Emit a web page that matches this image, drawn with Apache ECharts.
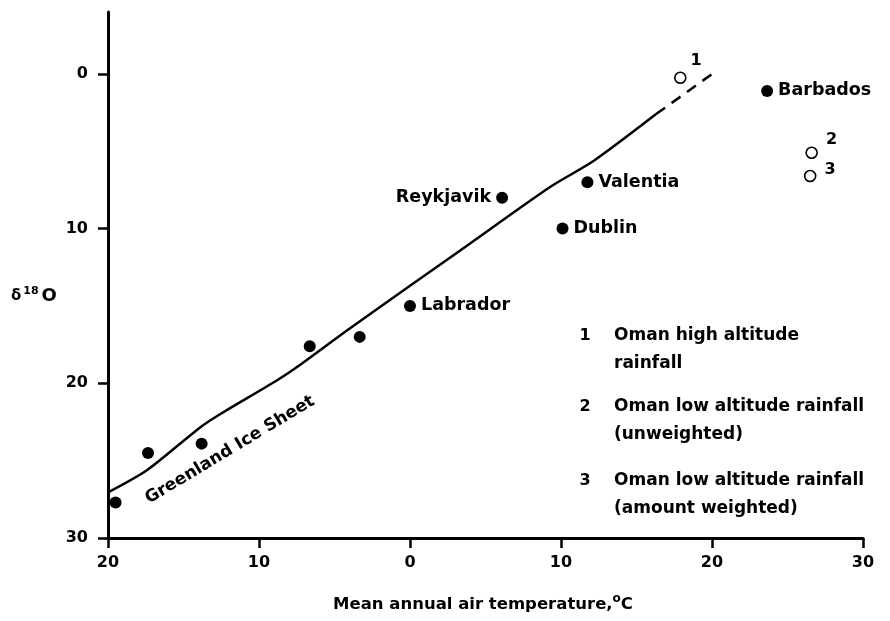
<!DOCTYPE html>
<html>
<head>
<meta charset="utf-8">
<script src="https://cdn.jsdelivr.net/npm/echarts@6/dist/echarts.min.js"></script>
<style>
  html, body { margin: 0; padding: 0; background: #fff; }
  #chart { width: 890px; height: 621px; }
</style>
</head>
<body>
<div id="chart"></div>
<script>
// Stations: mean annual air temperature (°C) vs δ18O of precipitation
const stationNames = ['', '', '', '', '', 'Labrador', 'Reykjavik', 'Dublin', 'Valentia', 'Barbados'];
const stationTemps = [-19.5, -17.35, -13.8, -6.64, -3.33, 0, 6.1, 10.1, 11.75, 23.65];
const stationD18O  = [27.7, 24.5, 23.9, 17.6, 17.0, 15.0, 8.0, 10.0, 7.0, 1.1];
const stationLabelSide = ['', '', '', '', '', 'right', 'left', 'right', 'right', 'right'];

// Oman rainfall samples (open circles)
const omanIds   = ['1', '2', '3'];
const omanTemps = [17.9, 26.6, 26.5];
const omanD18O  = [0.25, 5.1, 6.6];

// Greenland Ice Sheet relation: solid part and its dashed extension
const curveTemps = [-20, -17.4, -13.9, -12.5, -8.8, -7.2, -4.2, 0, 3.35, 9.3, 12.2, 16.3];
const curveD18O  = [27.05, 25.6, 22.85, 21.95, 19.8, 18.75, 16.6, 13.7, 11.4, 7.3, 5.6, 2.6];
const dashTemps  = [16.3, 20.3];
const dashD18O   = [2.6, -0.2];

// Axis ticks
const xTickValues = [-20, -10, 0, 10, 20, 30];
const xTickLabels = ['20', '10', '0', '10', '20', '30'];
const yTickValues = [0, 10, 20, 30];
const yTickLabels = ['0', '10', '20', '30'];

// Notes for the numbered Oman samples
const noteNumbers = ['1', '2', '3'];
const noteLines = [
  ['Oman high altitude', 'rainfall'],
  ['Oman low altitude rainfall', '(unweighted)'],
  ['Oman low altitude rainfall', '(amount weighted)']
];

const FONT = 'DejaVu Sans';
const INK = '#000';

const zip = (xs, ys) => xs.map((x, i) => [x, ys[i]]);

const stationData = stationTemps.map((t, i) => {
  const side = stationLabelSide[i];
  return {
    name: stationNames[i],
    value: [t, stationD18O[i]],
    label: side ? { show: true, position: side, distance: 5 } : { show: false }
  };
});

const omanOffsets = [[2, -17], [6, -13], [6, -6]];
const omanData = omanTemps.map((t, i) => ({
  name: omanIds[i],
  value: [t, omanD18O[i]],
  label: { show: true, position: 'right', distance: 2, offset: omanOffsets[i] }
}));

const chart = echarts.init(document.getElementById('chart'), null, { renderer: 'canvas' });

const graphics = [];
// y-axis title δ18O
graphics.push({
  type: 'text', left: 11, top: 286,
  style: {
    text: '{d|δ}{s|18}{o|O}',
    rich: {
      d: { fontFamily: FONT, fontWeight: 'bold', fontSize: 15, fill: INK },
      s: { fontFamily: FONT, fontWeight: 'bold', fontSize: 11, fill: INK, padding: [0, 3, 9, 2] },
      o: { fontFamily: FONT, fontWeight: 'bold', fontSize: 18, fill: INK }
    }
  }
});
// x-axis title
graphics.push({
  type: 'text', x: 483, y: 605,
  style: {
    text: 'Mean annual air temperature,{sup|o}C',
    align: 'center', verticalAlign: 'middle',
    fontFamily: FONT, fontWeight: 'bold', fontSize: 16.5, fill: INK,
    rich: {
      sup: { fontFamily: FONT, fontWeight: 'bold', fontSize: 12, fill: INK, padding: [0, 0, 12, 0] }
    }
  }
});
// Curve caption
graphics.push({
  type: 'text', x: 230, y: 450, rotation: 31 * Math.PI / 180,
  style: {
    text: 'Greenland Ice Sheet', align: 'center', verticalAlign: 'middle',
    fontFamily: FONT, fontWeight: 'bold', fontSize: 17, fill: INK
  }
});
// Notes block
const noteTops = [336, 407, 481];
noteNumbers.forEach((n, i) => {
  graphics.push({
    type: 'text', x: 585, y: noteTops[i],
    style: { text: n, align: 'center', verticalAlign: 'middle',
      fontFamily: FONT, fontWeight: 'bold', fontSize: 16, fill: INK }
  });
  noteLines[i].forEach((line, j) => {
    graphics.push({
      type: 'text', x: 614, y: noteTops[i] + j * 28,
      style: { text: line, align: 'left', verticalAlign: 'middle',
        fontFamily: FONT, fontWeight: 'bold', fontSize: 17, fill: INK }
    });
  });
});

chart.setOption({
  animation: false,
  backgroundColor: '#fff',
  textStyle: { fontFamily: FONT, color: INK },
  grid: { left: 108, right: 27, top: 12, bottom: 83, containLabel: false, outerBoundsMode: 'none' },
  xAxis: {
    type: 'value', min: -20, max: 30,
    axisLine: { show: true, onZero: false, lineStyle: { color: INK, width: 3 } },
    axisTick: { show: true, customValues: xTickValues, length: 10, lineStyle: { color: INK, width: 2.5 } },
    axisLabel: {
      show: true, customValues: xTickValues, margin: 17,
      fontFamily: FONT, fontWeight: 'bold', fontSize: 16, color: INK,
      formatter: v => xTickLabels[xTickValues.indexOf(v)]
    },
    splitLine: { show: false }
  },
  yAxis: {
    type: 'value', min: -4, max: 30, inverse: true,
    axisLine: { show: true, onZero: false, lineStyle: { color: INK, width: 3 } },
    axisTick: { show: true, customValues: yTickValues, length: 10, lineStyle: { color: INK, width: 2.5 } },
    axisLabel: {
      show: true, customValues: yTickValues, margin: 20,
      fontFamily: FONT, fontWeight: 'bold', fontSize: 16, color: INK,
      formatter: v => yTickLabels[yTickValues.indexOf(v)]
    },
    splitLine: { show: false }
  },
  series: [
    {
      type: 'line', data: zip(curveTemps, curveD18O), smooth: 0.25,
      symbol: 'none', lineStyle: { color: INK, width: 2.5 }, z: 2
    },
    {
      type: 'line', data: zip(dashTemps, dashD18O),
      symbol: 'none', lineStyle: { color: INK, width: 2.5, type: [11, 8] }, z: 2
    },
    {
      type: 'scatter', data: stationData, symbol: 'circle', symbolSize: 12,
      itemStyle: { color: INK, opacity: 1 },
      label: {
        formatter: '{b}', fontFamily: FONT, fontWeight: 'bold', fontSize: 17.5, color: INK
      },
      z: 3
    },
    {
      type: 'scatter', data: omanData, symbol: 'circle', symbolSize: 11,
      itemStyle: { color: '#fff', borderColor: INK, borderWidth: 1.6, opacity: 1 },
      label: {
        formatter: '{b}', fontFamily: FONT, fontWeight: 'bold', fontSize: 16, color: INK
      },
      z: 3
    }
  ],
  graphic: graphics
});
</script>
</body>
</html>
